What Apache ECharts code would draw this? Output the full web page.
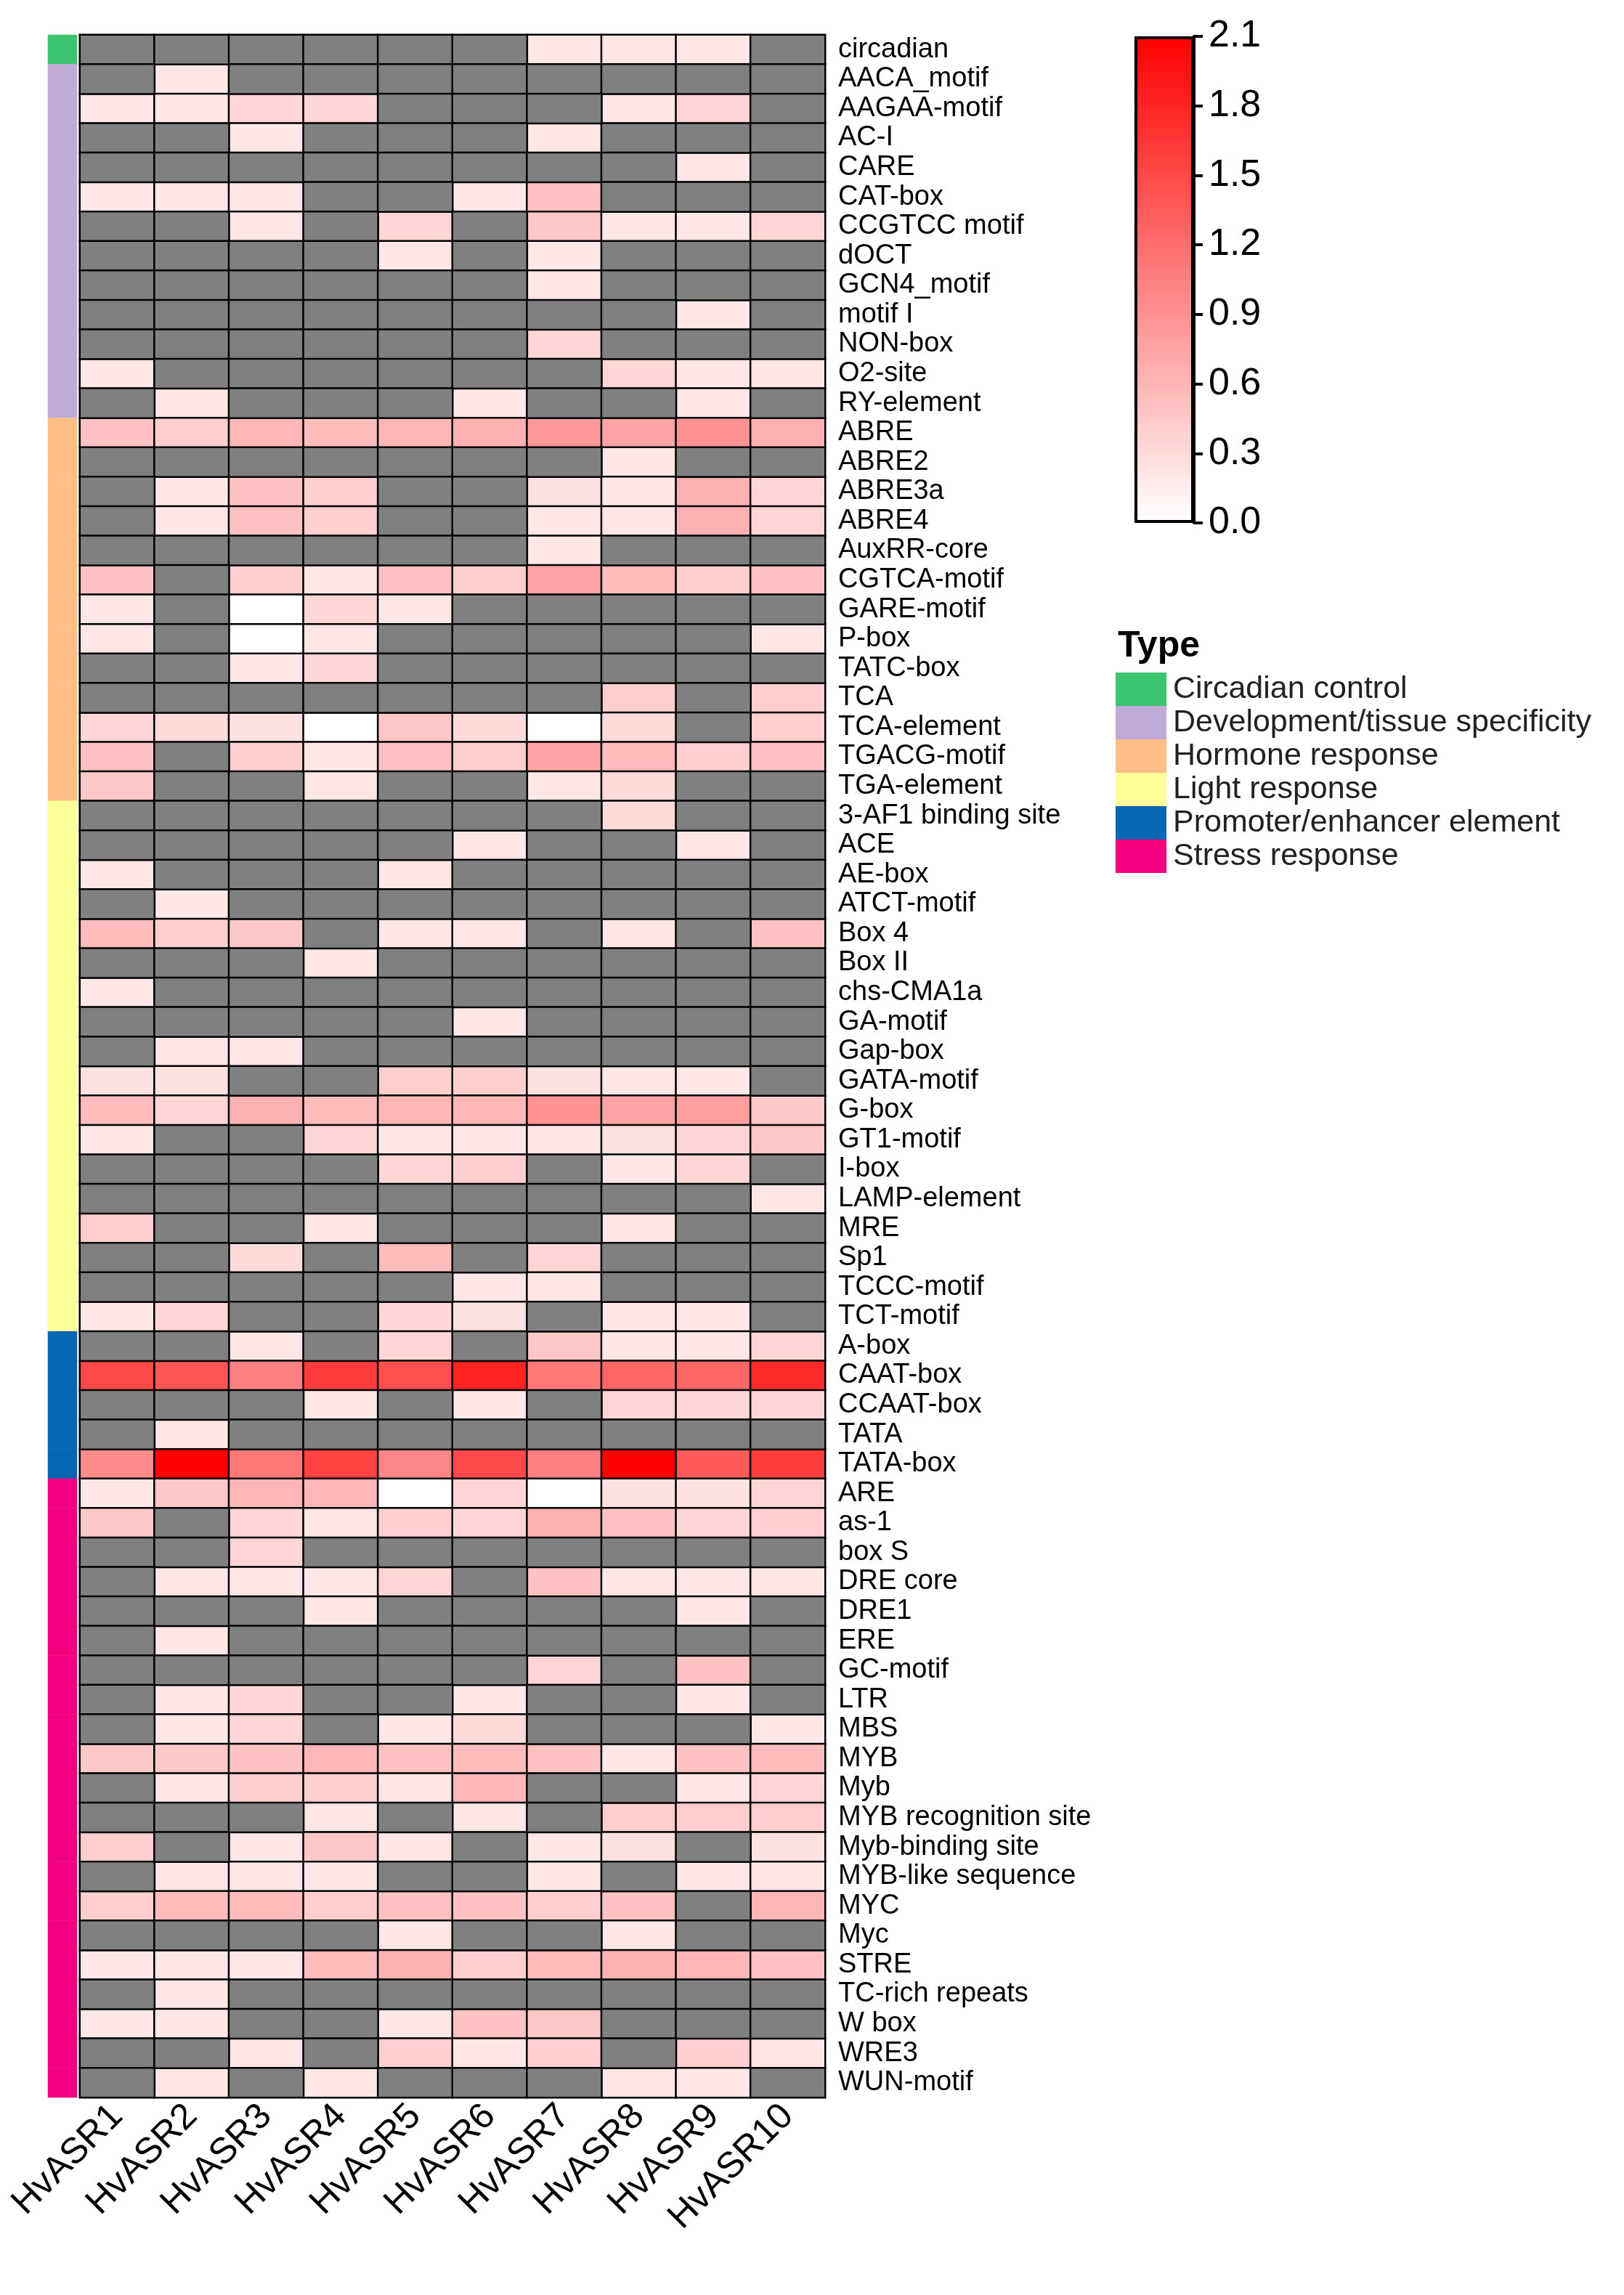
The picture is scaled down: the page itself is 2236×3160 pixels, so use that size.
<!DOCTYPE html>
<html>
<head>
<meta charset="utf-8">
<script src="https://cdn.jsdelivr.net/npm/echarts@6/dist/echarts.min.js"></script>
<style>
html, body { margin: 0; padding: 0; background: #fff; }
#main { width: 2236px; height: 3160px; }
</style>
</head>
<body>
<div id="main"></div>
<script>
var n = null;
var genes = ['HvASR1', 'HvASR2', 'HvASR3', 'HvASR4', 'HvASR5', 'HvASR6', 'HvASR7', 'HvASR8', 'HvASR9', 'HvASR10'];
var types = ['Circadian control', 'Development/tissue specificity', 'Hormone response', 'Light response', 'Promoter/enhancer element', 'Stress response'];
var typeColors = ['#3dc46f', '#c0aad6', '#fdbf85', '#ffff99', '#0867b2', '#f2007f'];
var colorbarTicks = [0, 2.1, 0.3];

// circadian control
var circadianMotifs = ['circadian'];
var circadianVals = [
	[n, n, n, n, n, n, .2, .2, .2, n]
];
// development / tissue specificity
var devMotifs = ['AACA_motif', 'AAGAA-motif', 'AC-I', 'CARE', 'CAT-box', 'CCGTCC motif', 'dOCT', 'GCN4_motif', 'motif I', 'NON-box', 'O2-site', 'RY-element'];
var devVals = [
	[n, .2, n, n, n, n, n, n, n, n],
	[.2, .2, .35, .35, n, n, n, .2, .35, n],
	[n, n, .2, n, n, n, .2, n, n, n],
	[n, n, n, n, n, n, n, n, .2, n],
	[.2, .2, .2, n, n, .2, .5, n, n, n],
	[n, n, .2, n, .35, n, .45, .2, .2, .35],
	[n, n, n, n, .2, n, .2, n, n, n],
	[n, n, n, n, n, n, .2, n, n, n],
	[n, n, n, n, n, n, n, n, .2, n],
	[n, n, n, n, n, n, .35, n, n, n],
	[.2, n, n, n, n, n, n, .35, .2, .2],
	[n, .2, n, n, n, .2, n, n, .2, n]
];
// hormone response
var hormoneMotifs = ['ABRE', 'ABRE2', 'ABRE3a', 'ABRE4', 'AuxRR-core', 'CGTCA-motif', 'GARE-motif', 'P-box', 'TATC-box', 'TCA', 'TCA-element', 'TGACG-motif', 'TGA-element'];
var hormoneVals = [
	[.5, .4, .6, .55, .6, .65, .85, .75, .9, .65],
	[n, n, n, n, n, n, n, .2, n, n],
	[n, .2, .5, .4, n, n, .25, .2, .65, .35],
	[n, .2, .5, .4, n, n, .2, .2, .65, .35],
	[n, n, n, n, n, n, .2, n, n, n],
	[.5, n, .4, .2, .5, .4, .75, .55, .4, .5],
	[.2, n, 0, .35, .2, n, n, n, n, n],
	[.2, n, 0, .2, n, n, n, n, n, .2],
	[n, n, .2, .35, n, n, n, n, n, n],
	[n, n, n, n, n, n, n, .4, n, .4],
	[.35, .3, .25, 0, .45, .3, 0, .3, n, .4],
	[.5, n, .4, .2, .5, .4, .75, .55, .4, .5],
	[.45, n, n, .2, n, n, .2, .3, n, n]
];
// light response
var lightMotifs = ['3-AF1 binding site', 'ACE', 'AE-box', 'ATCT-motif', 'Box 4', 'Box II', 'chs-CMA1a', 'GA-motif', 'Gap-box', 'GATA-motif', 'G-box', 'GT1-motif', 'I-box', 'LAMP-element', 'MRE', 'Sp1', 'TCCC-motif', 'TCT-motif'];
var lightVals = [
	[n, n, n, n, n, n, n, .3, n, n],
	[n, n, n, n, n, .2, n, n, .2, n],
	[.2, n, n, n, .2, n, n, n, n, n],
	[n, .2, n, n, n, n, n, n, n, n],
	[.55, .4, .45, n, .2, .2, n, .2, n, .5],
	[n, n, n, .2, n, n, n, n, n, n],
	[.2, n, n, n, n, n, n, n, n, n],
	[n, n, n, n, n, .2, n, n, n, n],
	[n, .2, .2, n, n, n, n, n, n, n],
	[.25, .25, n, n, .4, .4, .25, .2, .2, n],
	[.55, .35, .65, .55, .6, .6, .9, .75, .8, .45],
	[.2, n, n, .35, .2, .2, .2, .25, .35, .45],
	[n, n, n, n, .35, .4, n, .2, .35, n],
	[n, n, n, n, n, n, n, n, n, .2],
	[.4, n, n, .2, n, n, n, .2, n, n],
	[n, n, .3, n, .55, n, .35, n, n, n],
	[n, n, n, n, n, .2, .2, n, n, n],
	[.2, .35, n, n, .35, .25, n, .2, .2, n]
];
// promoter / enhancer element
var promoterMotifs = ['A-box', 'CAAT-box', 'CCAAT-box', 'TATA', 'TATA-box'];
var promoterVals = [
	[n, n, .2, n, .35, n, .45, .2, .2, .35],
	[1.5, 1.4, 1.05, 1.6, 1.45, 1.8, 1.1, 1.25, 1.25, 1.75],
	[n, n, n, .2, n, .2, n, .35, .35, .35],
	[n, .2, n, n, n, n, n, n, n, n],
	[.95, 2.1, 1.1, 1.55, 1.0, 1.5, 1.05, 2.1, 1.35, 1.6]
];
// stress response
var stressMotifs = ['ARE', 'as-1', 'box S', 'DRE core', 'DRE1', 'ERE', 'GC-motif', 'LTR', 'MBS', 'MYB', 'Myb', 'MYB recognition site', 'Myb-binding site', 'MYB-like sequence', 'MYC', 'Myc', 'STRE', 'TC-rich repeats', 'W box', 'WRE3', 'WUN-motif'];
var stressVals = [
	[.2, .45, .6, .6, 0, .35, 0, .25, .25, .35],
	[.45, n, .35, .2, .4, .35, .65, .5, .35, .4],
	[n, n, .35, n, n, n, n, n, n, n],
	[n, .2, .2, .2, .35, n, .5, .2, .2, .2],
	[n, n, n, .2, n, n, n, n, .2, n],
	[n, .2, n, n, n, n, n, n, n, n],
	[n, n, n, n, n, n, .35, n, .5, n],
	[n, .2, .35, n, n, .2, n, n, .2, n],
	[n, .2, .35, n, .2, .3, n, n, n, .2],
	[.45, .45, .5, .6, .5, .55, .5, .2, .5, .55],
	[n, .2, .4, .4, .2, .6, n, n, .2, .35],
	[n, n, n, .2, n, .2, n, .4, .4, .4],
	[.4, n, .2, .45, .2, n, .2, .25, n, .25],
	[n, .2, .2, .2, n, n, .2, n, .2, .2],
	[.4, .55, .55, .4, .5, .5, .4, .5, n, .6],
	[n, n, n, n, .2, n, n, .2, n, n],
	[.2, .2, .2, .55, .65, .4, .55, .65, .6, .5],
	[n, .2, n, n, n, n, n, n, n, n],
	[.2, .2, n, n, .2, .5, .45, n, n, n],
	[n, n, .2, n, .4, .2, .4, n, .4, .2],
	[n, .2, n, .2, n, n, n, .2, .2, n]
];

var groups = [
	[circadianMotifs, circadianVals],
	[devMotifs, devVals],
	[hormoneMotifs, hormoneVals],
	[lightMotifs, lightVals],
	[promoterMotifs, promoterVals],
	[stressMotifs, stressVals]
];

var motifs = [], valueData = [], naData = [], typeData = [];
groups.forEach(function(g, t) {
	g[0].forEach(function(name, i) {
		var y = motifs.length;
		motifs.push(name);
		typeData.push({ value: [0, y, t], itemStyle: { color: typeColors[t], borderWidth: 0 } });
		g[1][i].forEach(function(v, x) {
			if (v === null) naData.push([x, y, 0]);
			else valueData.push([x, y, v]);
		});
	});
});

var font = 'Liberation Sans, Arial, sans-serif';
var top0 = 48, hmHeight = 2840;

var myChart = echarts.init(document.getElementById('main'));
var option = {
	animation: false,
	backgroundColor: '#fff',
	textStyle: { fontFamily: font },
	title: {
		text: 'Type',
		left: 1534,
		top: 860,
		textStyle: { fontFamily: font, fontSize: 50, fontWeight: 'bold', color: '#000' }
	},
	legend: {
		data: types,
		orient: 'vertical',
		left: 1536,
		top: 926,
		icon: 'rect',
		itemWidth: 70,
		itemHeight: 46,
		itemGap: 0,
		selectedMode: false,
		padding: 0,
		textStyle: { fontFamily: font, fontSize: 43, color: '#222', lineHeight: 46, padding: [0, 0, 0, 4] }
	},
	visualMap: {
		type: 'continuous',
		show: false,
		min: colorbarTicks[0],
		max: colorbarTicks[1],
		seriesIndex: 0,
		inRange: { color: ['#ffffff', '#ff0000'] }
	},
	grid: [
		{ left: 110, top: top0, width: 1026, height: hmHeight },
		{ left: 66, top: top0, width: 40, height: hmHeight },
		{ left: 1562, top: 50, width: 82, height: 670 }
	],
	xAxis: [{
		type: 'category',
		gridIndex: 0,
		data: genes,
		axisLine: { show: false },
		axisTick: { show: false },
		axisLabel: { rotate: 45, fontSize: 50, color: '#000', margin: 18, interval: 0, padding: [36, 0, 0, 0] }
	}, {
		type: 'category',
		gridIndex: 1,
		data: ['type'],
		show: false
	}, {
		type: 'category',
		gridIndex: 2,
		data: ['scale'],
		show: false
	}],
	yAxis: [{
		type: 'category',
		gridIndex: 0,
		data: motifs,
		inverse: true,
		position: 'right',
		axisLine: { show: false },
		axisTick: { show: false },
		axisLabel: { fontSize: 38, color: '#000', margin: 18, interval: 0 }
	}, {
		type: 'category',
		gridIndex: 1,
		data: motifs,
		inverse: true,
		show: false
	}, {
		type: 'value',
		gridIndex: 2,
		min: colorbarTicks[0],
		max: colorbarTicks[1],
		interval: colorbarTicks[2],
		position: 'right',
		splitLine: { show: false },
		axisLine: { show: true, lineStyle: { color: '#000', width: 4 } },
		axisTick: { show: true, length: 12, lineStyle: { color: '#000', width: 4 } },
		axisLabel: {
			fontSize: 52, color: '#000', margin: 20,
			formatter: function(v) { return v.toFixed(1); }
		}
	}],
	series: [{
		name: 'value',
		type: 'heatmap',
		xAxisIndex: 0,
		yAxisIndex: 0,
		data: valueData,
		itemStyle: { borderColor: '#000', borderWidth: 2.5 },
		emphasis: { disabled: true }
	}, {
		name: 'NA',
		type: 'heatmap',
		xAxisIndex: 0,
		yAxisIndex: 0,
		data: naData,
		itemStyle: { color: '#808080', borderColor: '#000', borderWidth: 2.5 },
		emphasis: { disabled: true }
	}, {
		name: 'type',
		type: 'heatmap',
		xAxisIndex: 1,
		yAxisIndex: 1,
		data: typeData,
		emphasis: { disabled: true }
	}, {
		name: 'colorbar',
		type: 'bar',
		xAxisIndex: 2,
		yAxisIndex: 2,
		barWidth: '100%',
		data: [colorbarTicks[1]],
		itemStyle: {
			color: new echarts.graphic.LinearGradient(0, 0, 0, 1, [
				{ offset: 0, color: '#ff0000' },
				{ offset: 1, color: '#ffffff' }
			]),
			borderColor: '#000',
			borderWidth: 4
		},
		silent: true
	}].concat(types.map(function(t, i) {
		return {
			name: t,
			type: 'scatter',
			xAxisIndex: 1,
			yAxisIndex: 1,
			data: [],
			itemStyle: { color: typeColors[i], opacity: 1 }
		};
	}))
};
myChart.setOption(option);
</script>
</body>
</html>
